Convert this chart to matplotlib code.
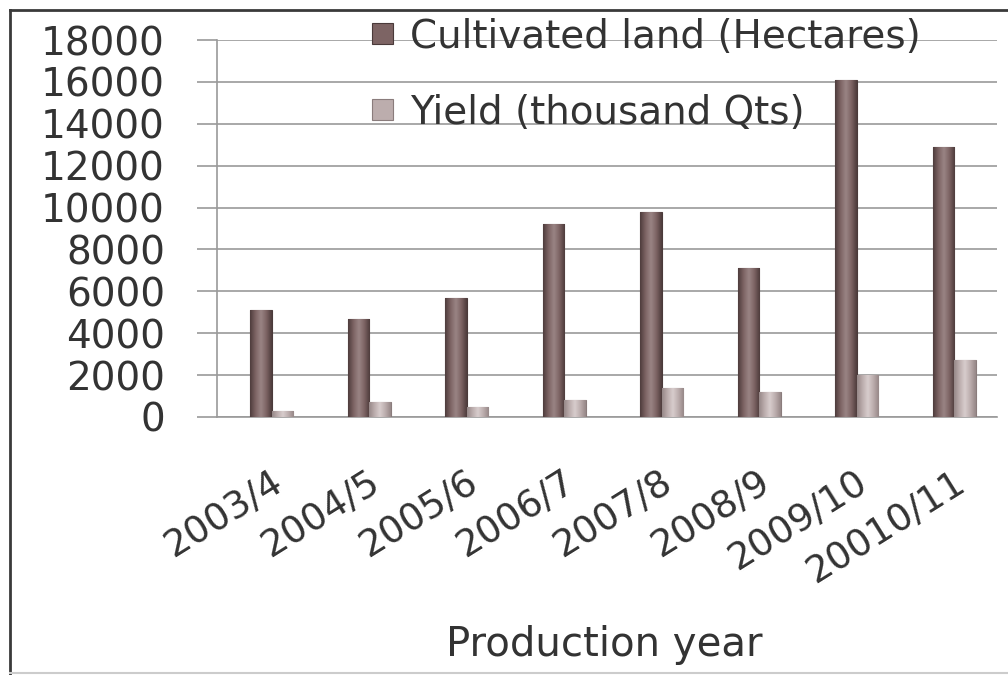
import numpy as np
import matplotlib.pyplot as plt
import matplotlib.transforms as mtransforms
from matplotlib.colors import LinearSegmentedColormap
from matplotlib.lines import Line2D

# === Data ===
years = ['2003/4', '2004/5', '2005/6', '2006/7', '2007/8', '2008/9', '2009/10', '20010/11']
cultivated = [5100, 4700, 5700, 9200, 9800, 7100, 16100, 12900]
yield_qts = [300, 700, 500, 800, 1400, 1200, 2000, 2700]

col_land = '#7d6464'
col_yield = '#bcadad'
grid_col = '#9a9a9a'
text_col = '#333333'

fig = plt.figure(figsize=(10.08, 6.75), dpi=100)
ax = fig.add_axes([217 / 1008, 1 - 417 / 675, 780 / 1008, 377 / 675])

x = np.arange(len(years))
w = 0.22
b1 = ax.bar(x - 0.05, cultivated, w, color=col_land, edgecolor='#4a3a3a',
            linewidth=0.8, label='Cultivated land (Hectares)', zorder=3)
b2 = ax.bar(x + 0.17, yield_qts, w, color=col_yield, edgecolor='#8a7c7c',
            linewidth=0.8, label='Yield (thousand Qts)', zorder=3)


# cylinder-like shading across each bar
def shade(bars, dark, base, light):
    cmap = LinearSegmentedColormap.from_list('cyl', [dark, base, light, base, dark])
    grad = np.linspace(0, 1, 64).reshape(1, -1)
    for p in bars:
        x0, h, bw = p.get_x(), p.get_height(), p.get_width()
        im = ax.imshow(grad, extent=[x0, x0 + bw, 0, h], aspect='auto',
                       cmap=cmap, zorder=3.5, interpolation='bicubic')
        im.set_clip_path(p)


shade(b1, '#4e3c3c', '#7d6464', '#9a8585')
shade(b2, '#968888', '#bcadad', '#d8cdcd')

ax.set_xlim(-0.5, len(years) - 0.5)
ax.set_ylim(0, 18000)
ax.set_yticks(np.arange(0, 18001, 2000))
ax.yaxis.grid(True, color=grid_col, linewidth=1.2, zorder=0)
ax.set_axisbelow(True)

for side in ['top', 'right']:
    ax.spines[side].set_visible(False)
for side in ['left', 'bottom']:
    ax.spines[side].set_color(grid_col)
    ax.spines[side].set_linewidth(1.2)

ax.tick_params(axis='y', length=14.4, width=1.2, color=grid_col, pad=23,
               labelsize=28, labelcolor=text_col)
ax.tick_params(axis='x', length=0, pad=34)
ax.set_xticks(x)
ax.set_xticklabels(years, rotation=32, ha='right', va='top',
                   rotation_mode='anchor', fontsize=27, color=text_col)
shift = mtransforms.ScaledTranslation(4 / 100, 0, fig.dpi_scale_trans)
for lab in ax.get_xticklabels():
    lab.set_transform(lab.get_transform() + shift)

fig.text(604 / 1008, 1 - 645 / 675, 'Production year', ha='center', va='center',
         fontsize=29, color=text_col)

fig.legend(handles=[b1, b2], loc='upper left', bbox_to_anchor=(372 / 1008, 0.974),
           frameon=False, fontsize=28, handlelength=0.55, handleheight=0.45,
           handletextpad=0.42, labelspacing=0.98, borderpad=0, borderaxespad=0,
           labelcolor=text_col)

# outer frame
fig.add_artist(Line2D([10 / 1008, 10 / 1008], [0, 1 - 10 / 675], color='#3a3a3a', lw=2))
fig.add_artist(Line2D([10 / 1008, 1], [1 - 10 / 675, 1 - 10 / 675], color='#3a3a3a', lw=2))
fig.add_artist(Line2D([10 / 1008, 1], [2 / 675, 2 / 675], color='#cccccc', lw=1.5))

fig.savefig('out.png', dpi=100)
